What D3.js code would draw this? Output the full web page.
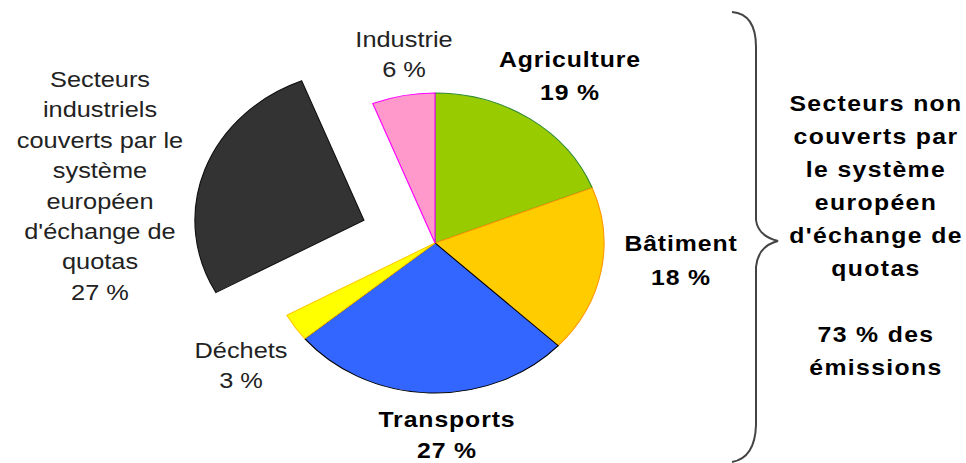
<!DOCTYPE html>
<head>
  <meta charset="utf-8">
  <style>
    body { margin: 0; background: #fff; }
    svg { display: block; font-family: "Liberation Sans", Arial, sans-serif; }
  </style>
</head>
<body>
<script src="https://cdnjs.cloudflare.com/ajax/libs/d3/7.8.5/d3.min.js"></script>
<script>

// data
var categories = ["Agriculture", "Bâtiment", "Transports", "Déchets",
                  "Secteurs industriels couverts par le système européen d'échange de quotas",
                  "Industrie"];
var values = [19, 18, 27, 3, 27, 6];
var covered = [false, false, false, false, true, false];

// styles
var fills   = ["#99cc00", "#ffcc00", "#3366ff", "#ffff00", "#333333", "#ff99cc"];
var strokes = ["#2f8a2f", "#ff9900", "#000000", "#ffcc00", "#111111", "#ff00ff"];

// label layout, in picture pixels: centre x, first baseline, line step
var labelLayout = [
  {x: 570, y: 67,  dy: 33,   bold: true,  lines: null},
  {x: 681, y: 251, dy: 34,   bold: true,  lines: null},
  {x: 447, y: 427, dy: 31,   bold: true,  lines: null},
  {x: 241, y: 358, dy: 30,   bold: false, lines: null},
  {x: 100, y: 87,  dy: 30.4, bold: false,
     lines: ["Secteurs", "industriels", "couverts par le", "système", "européen", "d'échange de", "quotas"]},
  {x: 404, y: 47,  dy: 30,   bold: false, lines: null}
];

var W = 966, H = 463;
var sx = 1.127;             // the picture is stretched sideways
var cx = 435, cy = 243, r = 150, explode = 67;

var svg = d3.select("body").append("svg")
    .attr("width", W)
    .attr("height", H);

var g = svg.append("g")
    .attr("transform", "scale(" + sx + ",1)");

var pie = d3.pie().sort(null).value(function(d) { return d; });
var arc = d3.arc().innerRadius(0).outerRadius(r);
var arcs = pie(values);

var pieG = g.append("g")
    .attr("transform", "translate(" + (cx / sx) + "," + cy + ")");

pieG.selectAll("path")
    .data(arcs)
    .enter()
  .append("path")
    .attr("d", arc)
    .attr("fill", function(d, i) { return fills[i]; })
    .attr("stroke", function(d, i) { return strokes[i]; })
    .attr("stroke-width", 1)
    .attr("transform", function(d, i) {
      if (!covered[i]) return null;
      var a = (d.startAngle + d.endAngle) / 2;
      return "translate(" + (explode * Math.sin(a)) + "," + (-explode * Math.cos(a)) + ")";
    });

// slice labels
arcs.forEach(function(d, i) {
  var L = labelLayout[i];
  var lines = (L.lines || [categories[i]]).concat([values[i] + " %"]);
  var t = g.append("text")
      .attr("text-anchor", "middle")
      .attr("font-size", L.bold ? 22 : 22.5)
      .attr("font-weight", L.bold ? "bold" : "normal")
      .attr("letter-spacing", L.bold ? 0.8 : 0)
      .attr("fill", L.bold ? "#000" : "#222");
  lines.forEach(function(s, k) {
    t.append("tspan")
      .attr("x", L.x / sx)
      .attr("y", L.y + k * L.dy)
      .text(s);
  });
});

// note on the right
var notCovered = d3.sum(values.filter(function(v, i) { return !covered[i]; }));
var noteLines = ["Secteurs non", "couverts par", "le système", "européen",
                 "d'échange de", "quotas", "", notCovered + " % des", "émissions"];

var note = g.append("text")
    .attr("text-anchor", "middle")
    .attr("font-size", 22)
    .attr("font-weight", "bold")
    .attr("letter-spacing", 1.2)
    .attr("fill", "#000");
noteLines.forEach(function(s, k) {
  note.append("tspan")
    .attr("x", 876 / sx)
    .attr("y", 111 + k * 33)
    .text(s);
});

// brace
var p = d3.path();
p.moveTo(732, 12);
p.quadraticCurveTo(756, 14, 756, 47);
p.lineTo(756, 220);
p.quadraticCurveTo(758, 236, 778, 241);
p.quadraticCurveTo(758, 246, 756, 267);
p.lineTo(756, 425);
p.quadraticCurveTo(755, 458, 732, 462);

svg.append("path")
    .attr("d", p.toString())
    .attr("fill", "none")
    .attr("stroke", "#444")
    .attr("stroke-width", 2);

</script>
</body>
